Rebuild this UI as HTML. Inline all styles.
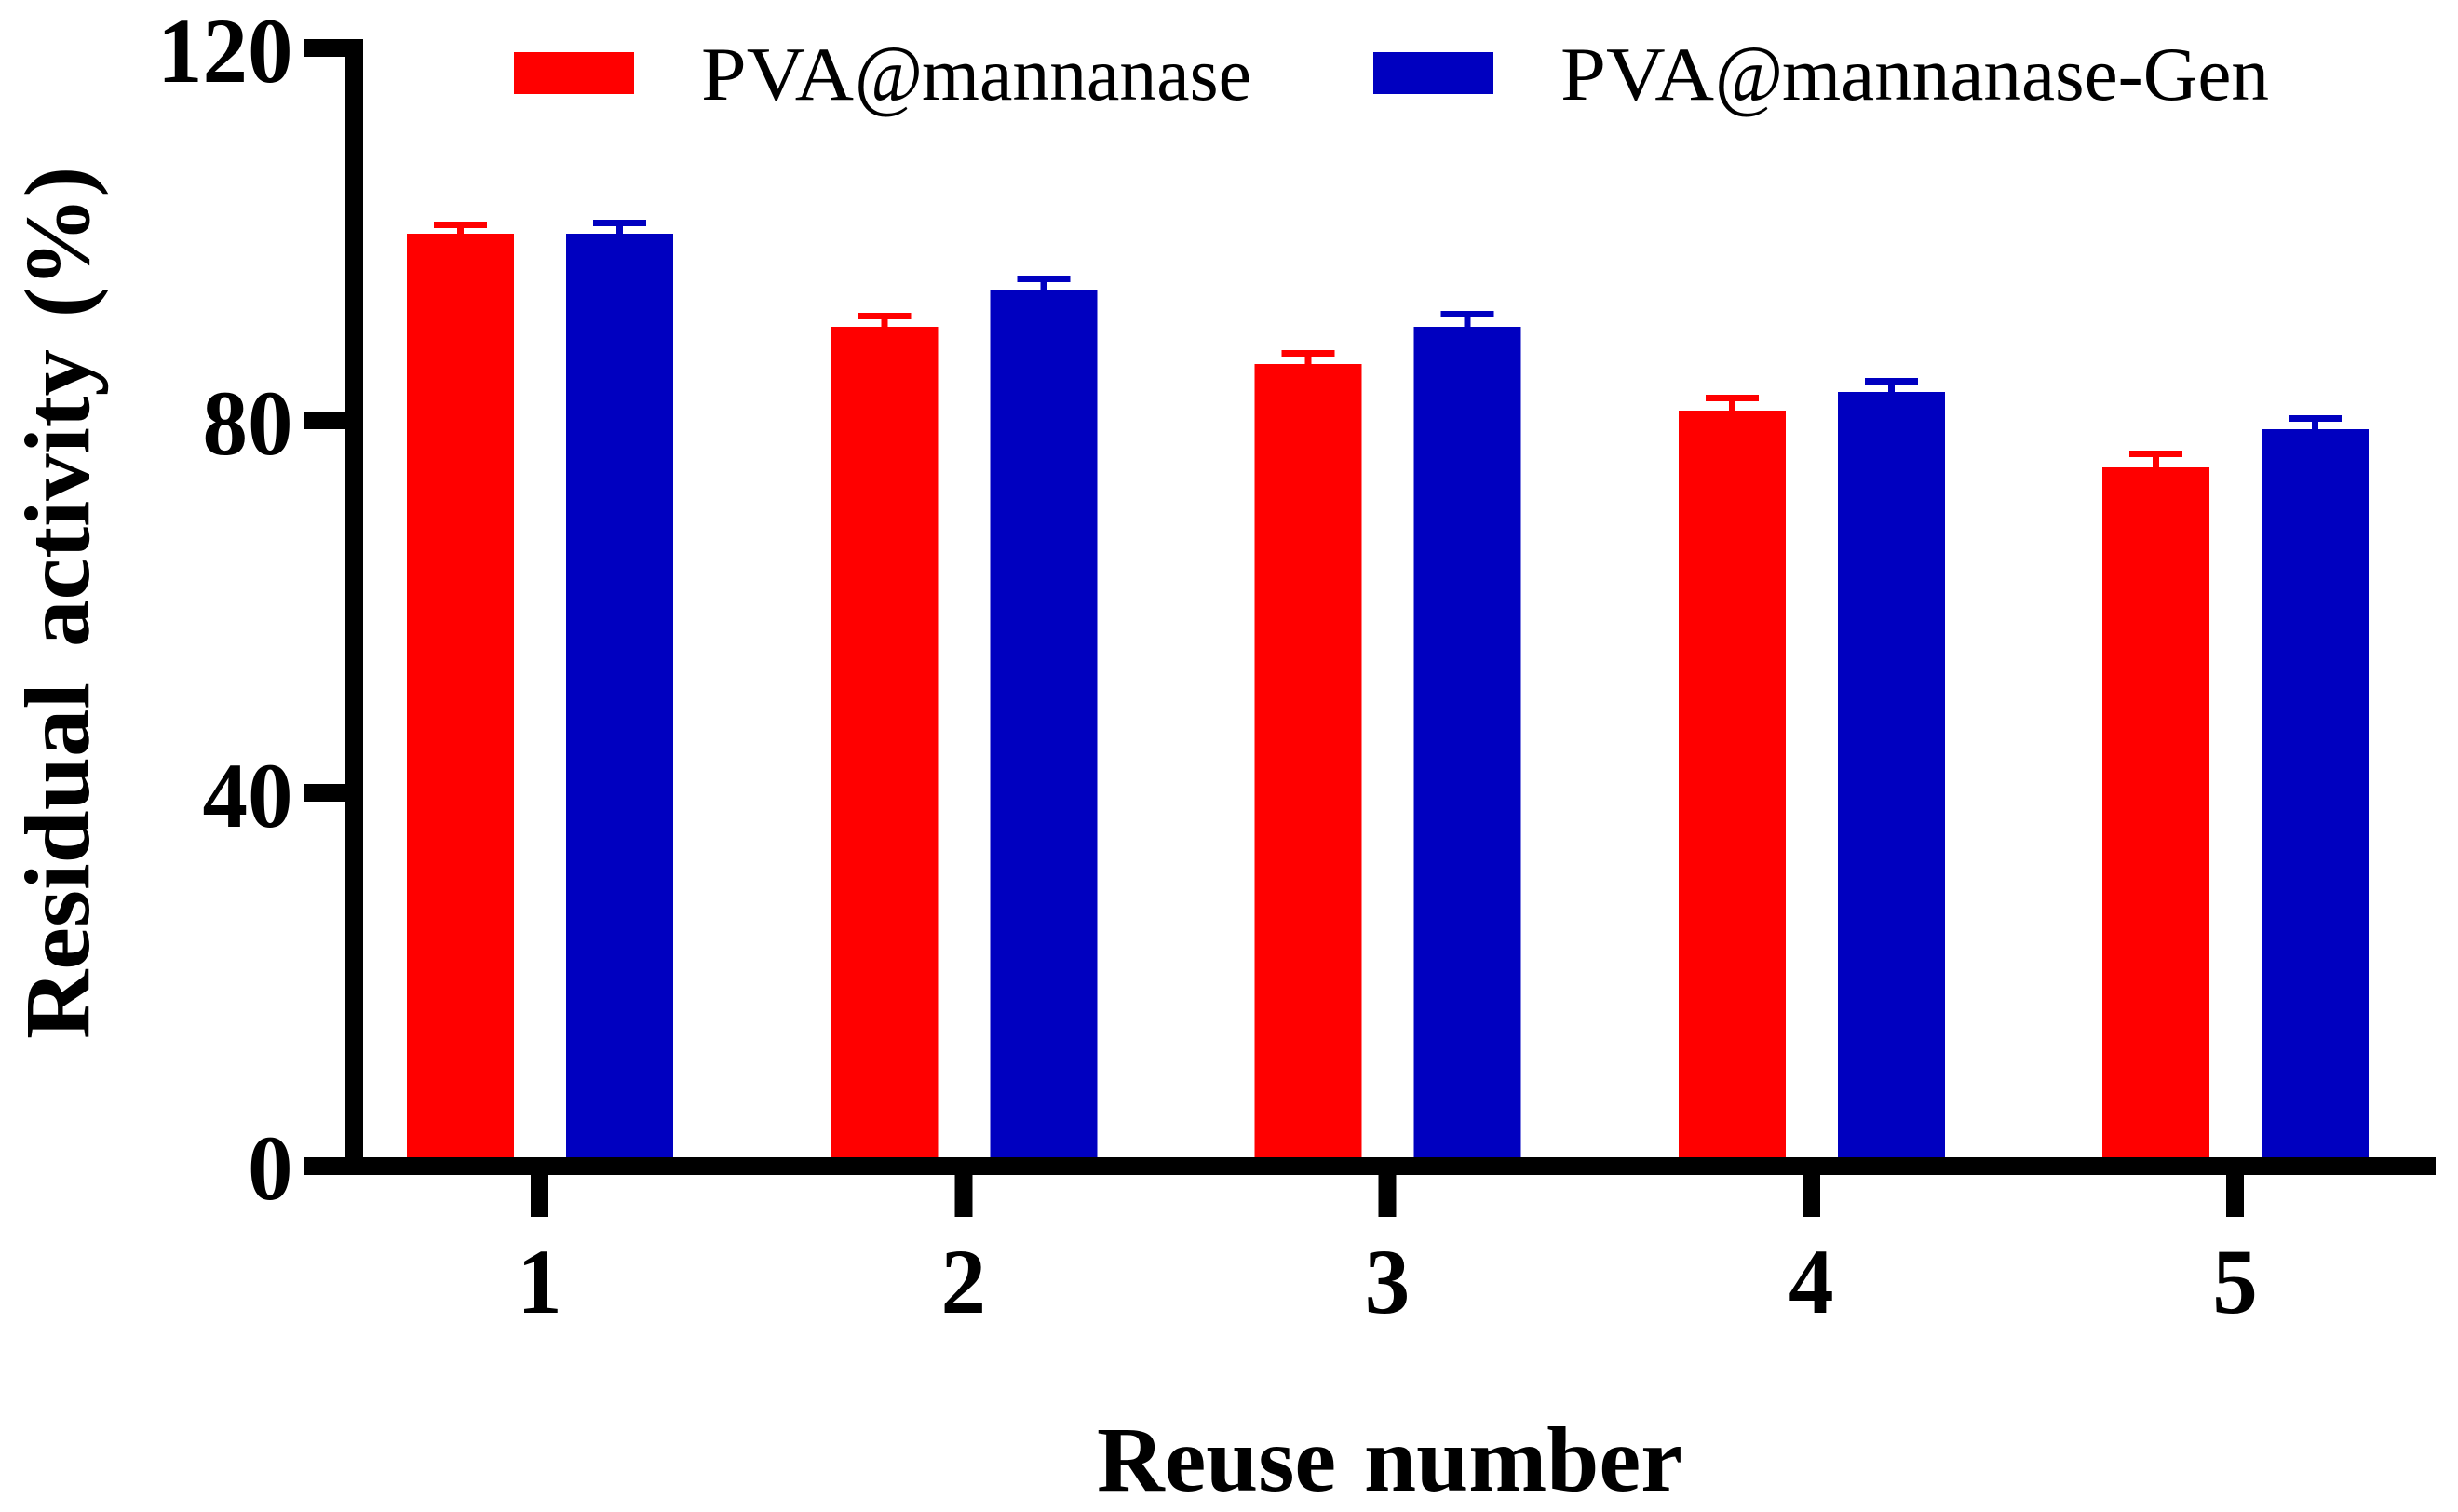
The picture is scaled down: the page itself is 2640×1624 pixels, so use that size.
<!DOCTYPE html>
<html lang="en">
<head>
<meta charset="utf-8">
<title>Residual activity vs reuse number</title>
<style>
html,body{margin:0;padding:0;background:#fff;}
svg{display:block;}
text{font-family:"Liberation Serif","Times New Roman",serif;fill:#000;}
.bold{font-weight:700;font-size:100px;}
.legend{font-size:82px;font-weight:400;}
.at{font-size:87px;}
</style>
</head>
<body>
<svg id="chart" xmlns="http://www.w3.org/2000/svg" width="2640" height="1624" viewBox="0 0 2640 1624">
  <rect x="0" y="0" width="2640" height="1624" fill="#fff"/>
  <g id="bars" shape-rendering="crispEdges"></g>
  <g id="axes" shape-rendering="crispEdges">
    <rect x="371" y="42" width="19" height="1220" fill="#000"/>
    <rect x="326" y="1243" width="2290" height="19" fill="#000"/>
  </g>
  <g id="labels"></g>
  <text class="bold" transform="translate(95,1116) rotate(-90)"><tspan x="0" textLength="383" lengthAdjust="spacingAndGlyphs">Residual</tspan> <tspan x="421" textLength="320" lengthAdjust="spacingAndGlyphs">activity</tspan> <tspan x="775" textLength="162" lengthAdjust="spacingAndGlyphs">(%)</tspan></text>
  <text class="bold" y="1601"><tspan x="1178" textLength="257" lengthAdjust="spacingAndGlyphs">Reuse</tspan> <tspan x="1465" textLength="342" lengthAdjust="spacingAndGlyphs">number</tspan></text>
  <g>
    <rect x="552" y="56" width="129" height="45" fill="#ff0000" shape-rendering="crispEdges"/>
    <text class="legend" y="107"><tspan x="753" textLength="164" lengthAdjust="spacingAndGlyphs">PVA</tspan><tspan class="at" x="918" dy="2" textLength="73" lengthAdjust="spacingAndGlyphs">@</tspan><tspan x="990" dy="-2" textLength="354" lengthAdjust="spacingAndGlyphs">mannanase</tspan></text>
    <rect x="1475" y="56" width="129" height="45" fill="#0000c0" shape-rendering="crispEdges"/>
    <text class="legend" y="107"><tspan x="1676" textLength="165" lengthAdjust="spacingAndGlyphs">PVA</tspan><tspan class="at" x="1842" dy="2" textLength="73" lengthAdjust="spacingAndGlyphs">@</tspan><tspan x="1914" dy="-2" textLength="523" lengthAdjust="spacingAndGlyphs">mannanase-Gen</tspan></text>
  </g>
</svg>
<script>
const categories = ["1", "2", "3", "4", "5"];
const mannanaseValues = [100, 90, 86, 81, 74.9];
const mannanaseErrors = [0.95, 1.15, 1.15, 1.35, 1.45];
const genValues = [100, 94, 90, 83, 79];
const genErrors = [1.15, 1.15, 1.35, 1.15, 1.15];
const yTickValues = [0, 40, 80, 120];

const NS = 'http://www.w3.org/2000/svg';
const barsGroup = document.getElementById('bars');
const axesGroup = document.getElementById('axes');
const labelsGroup = document.getElementById('labels');

function yScale(v) { return 1251 - 10 * v; }
function xScale(i) { return 579.5 + 455.25 * i; }

function makeRect(parent, x, y, w, h, fill) {
  const r = document.createElementNS(NS, 'rect');
  r.setAttribute('x', x);
  r.setAttribute('y', y);
  r.setAttribute('width', w);
  r.setAttribute('height', h);
  r.setAttribute('fill', fill);
  parent.appendChild(r);
  return r;
}

function makeText(parent, str, x, y, anchor) {
  const t = document.createElementNS(NS, 'text');
  t.setAttribute('class', 'bold');
  t.setAttribute('x', x);
  t.setAttribute('y', y);
  t.setAttribute('text-anchor', anchor);
  t.setAttribute('textLength', str.length * 48.5);
  t.setAttribute('lengthAdjust', 'spacingAndGlyphs');
  t.textContent = str;
  parent.appendChild(t);
  return t;
}

function drawSeries(values, errors, offset, color, seriesName) {
  values.forEach(function (v, i) {
    const cx = xScale(i) + offset;
    const top = yScale(v);
    const capY = yScale(v + errors[i]);
    const bar = makeRect(barsGroup, cx - 57.5, top, 115, yScale(0) - top, color);
    
    
    const stem = makeRect(barsGroup, cx - 3.5, capY, 7, top - capY, color);
    
    
    const cap = makeRect(barsGroup, cx - 28.5, capY - 3.5, 57, 7, color);
    
    
  });
}

drawSeries(mannanaseValues, mannanaseErrors, -85, '#ff0000', 'mannanase');
drawSeries(genValues, genErrors, 86, '#0000c0', 'gen');

yTickValues.forEach(function (v) {
  const ty = v === 0 ? 1243 : yScale(v) - 9;
  const tick = makeRect(axesGroup, 326, ty, 46, 19, '#000');
  
  
  const lab = makeText(labelsGroup, String(v), 314.5, yScale(v) + 37, 'end');
  
  
});

categories.forEach(function (c, i) {
  const cx = xScale(i);
  const tick = makeRect(axesGroup, cx - 9.5, 1262, 19, 45, '#000');
  
  
  const lab = makeText(labelsGroup, c, cx, 1410, 'middle');
  
  
});
</script>
</body>
</html>
